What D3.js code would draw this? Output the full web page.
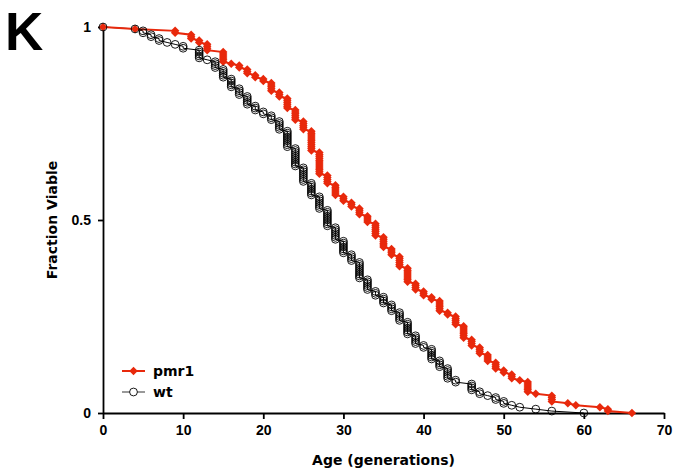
<!DOCTYPE html>
<html>
<head>
<meta charset="utf-8">
<script src="https://cdn.jsdelivr.net/npm/d3@7"></script>
<style>
  body { margin: 0; background: #fff; }
  svg { display: block; font-family: 'DejaVu Sans', Verdana, sans-serif; }
  .eje text { font-size: 14px; font-weight: bold; fill: #000; }
  .eje path, .eje line { stroke: #000; stroke-width: 1.8px; }
</style>
</head>
<body>
<div id="graf"></div>
<script>
// datos: edad (generaciones) y numero de celulas muertas en cada edad
var totalCelulas = 200
var pmr1Edades  = [4, 9, 11, 12, 13, 15, 16, 17, 18, 19, 20, 21, 22, 23, 24, 25, 26, 27, 28, 29, 30,
                   31, 32, 33, 34, 35, 36, 37, 38, 39, 40, 41, 42, 43, 44, 45, 46, 47, 48, 49, 50,
                   51, 52, 53, 54, 56, 58, 59, 62, 63, 66]
var pmr1Muertes = [1, 2, 3, 2, 4, 6, 1, 2, 3, 2, 2, 5, 3, 6, 6, 5, 11, 12, 5, 6, 3,
                   3, 4, 4, 7, 6, 4, 6, 8, 4, 3, 2, 6, 2, 5, 7, 4, 4, 4, 4, 2,
                   3, 1, 6, 1, 4, 1, 1, 1, 2, 1]
var wtEdades  = [4, 5, 6, 7, 8, 9, 10, 12, 13, 14, 15, 16, 17, 18, 19, 20, 21, 22, 23, 24, 25,
                 26, 27, 28, 29, 30, 31, 32, 33, 34, 35, 36, 37, 38, 39, 40, 41, 42, 43, 44,
                 46, 47, 48, 49, 50, 51, 52, 54, 56, 60]
var wtMuertes = [1, 2, 2, 2, 1, 1, 2, 5, 1, 4, 5, 5, 4, 5, 3, 2, 3, 5, 9, 10, 8,
                 7, 7, 9, 7, 7, 4, 9, 6, 3, 4, 4, 5, 7, 5, 2, 6, 4, 6, 2,
                 4, 2, 1, 2, 2, 1, 1, 1, 1, 1]
var xTicks = [0, 10, 20, 30, 40, 50, 60, 70]
var yTicks = [0, 0.5, 1]

var rojo = '#e8290c'
var ancho_total = 675, alto_total = 472
var margins = { top: 27, left: 103, right: 11, bottom: 59 }
var ancho = ancho_total - margins.left - margins.right
var alto = alto_total - margins.top - margins.bottom

// una fila por celula: fraccion viable despues de cada muerte
function puntos(edades, muertes, n) {
  var quedan = n
  var res = [{ edad: 0, f: 1 }]
  edades.forEach((e, i) => {
    for (var k = 0; k < muertes[i]; k++) {
      quedan--
      res.push({ edad: e, f: quedan / n })
    }
  })
  return res
}
var pmr1 = puntos(pmr1Edades, pmr1Muertes, totalCelulas)
var wt = puntos(wtEdades, wtMuertes, totalCelulas)

var svg = d3.select('#graf').append('svg')
  .attr('width', ancho_total)
  .attr('height', alto_total)

var g = svg.append('g')
  .attr('transform', `translate(${margins.left}, ${margins.top})`)

var x = d3.scaleLinear().domain([0, 70]).range([0, ancho])
var y = d3.scaleLinear().domain([0, 1]).range([alto, 0])

g.append('g')
  .attr('class', 'eje')
  .attr('transform', `translate(0, ${alto})`)
  .call(d3.axisBottom(x).tickValues(xTicks).tickSize(6).tickSizeOuter(0).tickPadding(6))

g.append('g')
  .attr('class', 'eje')
  .call(d3.axisLeft(y).tickValues(yTicks).tickSize(5).tickSizeOuter(0).tickPadding(7)
    .tickFormat(d => d))

var linea = d3.line().x(d => x(d.edad)).y(d => y(d.f))
var diamante = d3.symbol().type(d3.symbolDiamond2).size(46)

// wt
g.append('path')
  .datum(wt)
  .attr('d', linea)
  .attr('fill', 'none')
  .attr('stroke', '#000')
  .attr('stroke-width', 1)

// pmr1
g.append('path')
  .datum(pmr1)
  .attr('d', linea)
  .attr('fill', 'none')
  .attr('stroke', rojo)
  .attr('stroke-width', 2)

g.append('g').selectAll('path')
  .data(pmr1)
  .enter()
  .append('path')
    .attr('d', diamante)
    .attr('transform', d => `translate(${x(d.edad)}, ${y(d.f)})`)
    .attr('fill', rojo)

g.append('g').selectAll('circle')
  .data(wt)
  .enter()
  .append('circle')
    .attr('cx', d => x(d.edad))
    .attr('cy', d => y(d.f))
    .attr('r', 3.9)
    .attr('fill', 'none')
    .attr('stroke', '#000')
    .attr('stroke-width', 0.9)

// leyenda
var ley = g.append('g').attr('transform', `translate(19, ${y(0) - 42})`)
ley.append('line').attr('x1', 0).attr('x2', 23).attr('y1', 0).attr('y2', 0)
  .attr('stroke', rojo).attr('stroke-width', 2)
ley.append('path').attr('d', diamante).attr('transform', 'translate(11.5, 0)').attr('fill', rojo)
ley.append('text').attr('x', 31).attr('y', 5).text('pmr1')
  .style('font-size', '14px').style('font-weight', 'bold')
ley.append('line').attr('x1', 0).attr('x2', 23).attr('y1', 21).attr('y2', 21)
  .attr('stroke', '#555').attr('stroke-width', 1.2)
ley.append('circle').attr('cx', 11.5).attr('cy', 21).attr('r', 3.9)
  .attr('fill', '#fff').attr('stroke', '#000').attr('stroke-width', 0.9)
ley.append('text').attr('x', 31).attr('y', 26).text('wt')
  .style('font-size', '14px').style('font-weight', 'bold')

// titulos de ejes
g.append('text')
  .attr('x', ancho / 2)
  .attr('y', alto + 52)
  .attr('text-anchor', 'middle')
  .style('font-size', '14px').style('font-weight', 'bold')
  .text('Age (generations)')

g.append('text')
  .attr('transform', `translate(-46, ${alto / 2}) rotate(-90)`)
  .attr('text-anchor', 'middle')
  .style('font-size', '14px').style('font-weight', 'bold')
  .text('Fraction Viable')

svg.append('text')
  .attr('x', 5)
  .attr('y', 50)
  .style('font-family', "'Liberation Sans', Arial, sans-serif")
  .style('font-size', '53px').style('font-weight', 'bold')
  .text('K')
</script>
</body>
</html>
